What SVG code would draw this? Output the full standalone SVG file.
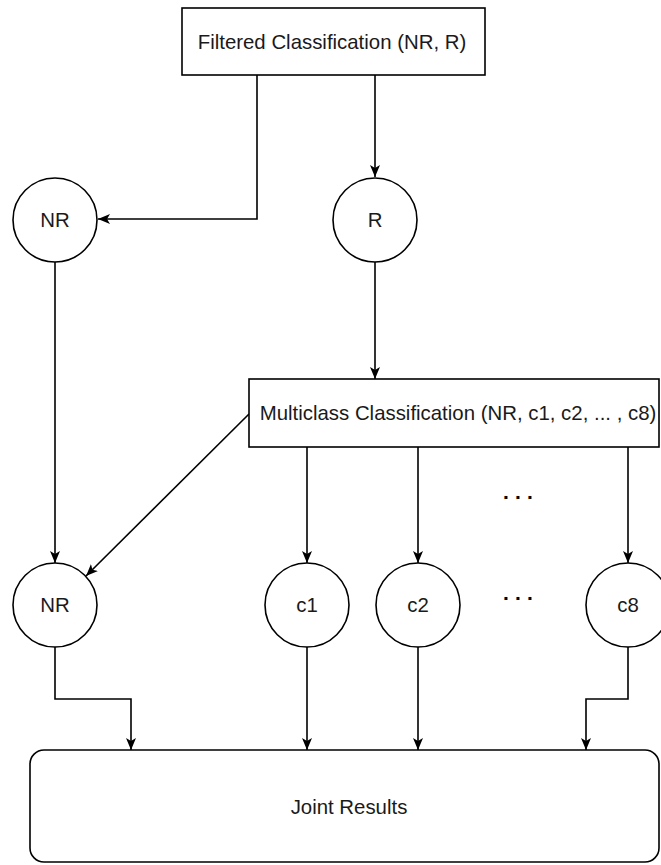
<svg xmlns="http://www.w3.org/2000/svg" width="661" height="865" viewBox="0 0 661 865">
<defs>
<marker id="arr" viewBox="0 0 12 10" refX="12" refY="5" markerWidth="12" markerHeight="10" markerUnits="userSpaceOnUse" orient="auto">
<path d="M0,0 L12,5 L0,10 L3,5 Z" fill="#000"/>
</marker>
<style>
.box{fill:#fff;stroke:#000;stroke-width:1.6}
.lbl{font-family:"Liberation Sans",Arial,sans-serif;font-size:20.4px;fill:#1a1a1a;text-anchor:middle;dominant-baseline:central}
.edge{fill:none;stroke:#000;stroke-width:1.6;marker-end:url(#arr)}
.dots{font-family:"Liberation Sans",Arial,sans-serif;font-size:21px;font-weight:bold;fill:#000;letter-spacing:6.2px}
</style>
</defs>
<rect width="661" height="865" fill="#fff"/>
<g id="connectors">
<path class="edge" d="M257,75 V219 H98"/>
<path class="edge" d="M375,75 V177"/>
<path class="edge" d="M375,262 V379"/>
<path class="edge" d="M55,262 V563"/>
<path class="edge" d="M249,414 L86,576"/>
<path class="edge" d="M307,447 V563"/>
<path class="edge" d="M418,447 V563"/>
<path class="edge" d="M628,447 V563"/>
<path class="edge" d="M55,647 V699 H131 V750"/>
<path class="edge" d="M307,647 V750"/>
<path class="edge" d="M418,647 V750"/>
<path class="edge" d="M628,647 V699 H586 V750"/>
</g>
<g id="filtered">
<rect class="box" x="182" y="8" width="303" height="67"/>
<text class="lbl" x="332" y="42">Filtered Classification (NR, R)</text>
</g>
<g id="nr1">
<circle class="box" cx="55" cy="220" r="42"/>
<text class="lbl" x="55" y="220">NR</text>
</g>
<g id="r">
<circle class="box" cx="375" cy="220" r="42"/>
<text class="lbl" x="375" y="220">R</text>
</g>
<g id="multiclass">
<rect class="box" x="249" y="379" width="410" height="68"/>
<text class="lbl" x="458" y="413">Multiclass Classification (NR, c1, c2, ... , c8)</text>
</g>
<g id="nr2">
<circle class="box" cx="55" cy="605" r="42"/>
<text class="lbl" x="55" y="605">NR</text>
</g>
<g id="c1">
<circle class="box" cx="307" cy="605" r="42"/>
<text class="lbl" x="307" y="605">c1</text>
</g>
<g id="c2">
<circle class="box" cx="418" cy="605" r="42"/>
<text class="lbl" x="418" y="605">c2</text>
</g>
<g id="c8">
<circle class="box" cx="628" cy="605" r="42"/>
<text class="lbl" x="628" y="605">c8</text>
</g>
<g id="dots">
<text class="dots" x="503" y="499">...</text>
<text class="dots" x="503" y="600">...</text>
</g>
<g id="joint">
<rect class="box" x="30" y="750" width="629" height="112" rx="14"/>
<text class="lbl" x="349" y="807">Joint Results</text>
</g>
</svg>
